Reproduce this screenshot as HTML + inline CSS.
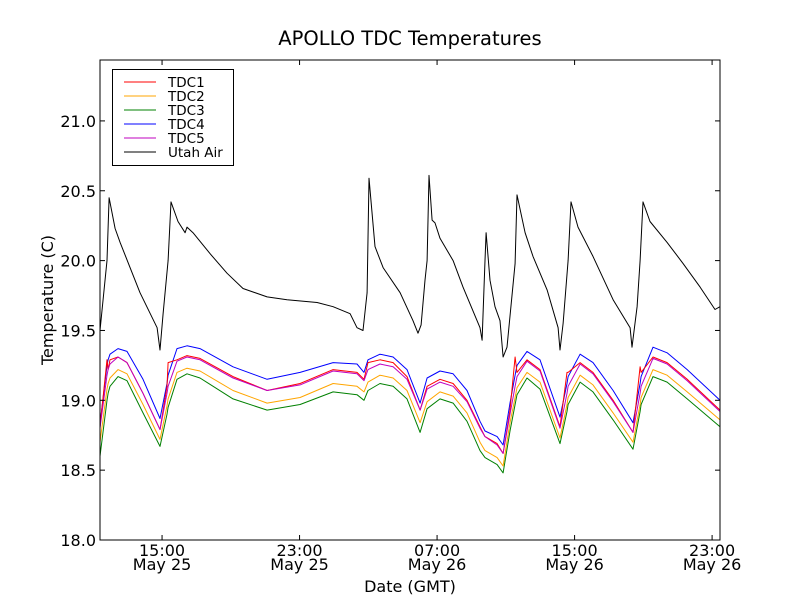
<!DOCTYPE html>
<html><head><meta charset="utf-8"><style>
body{margin:0;background:#fff;}
svg{display:block;font-family:"DejaVu Sans","Liberation Sans",sans-serif;}
</style></head><body>
<svg id="chart" width="800" height="600" viewBox="0 0 800 600">
<rect x="0" y="0" width="800" height="600" fill="#fff"/>
<text x="410" y="45" text-anchor="middle" font-size="19.5">APOLLO TDC Temperatures</text>
<g id="series"></g>
<g id="axes"></g>
<rect x="100" y="60" width="620" height="480" fill="none" stroke="#000" stroke-width="1"/>
<text x="410" y="592" text-anchor="middle" font-size="16">Date (GMT)</text>
<text transform="translate(53,300) rotate(-90)" text-anchor="middle" font-size="16">Temperature (C)</text>
<g id="legend">
<rect x="112.5" y="69.5" width="121" height="96" fill="#fff" stroke="#000"/>
</g>
</svg>
<script>
const airHours=[11.39,11.80,11.92,12.27,12.56,13.72,14.71,14.88,15.06,15.35,15.52,15.93,16.34,16.45,16.80,17.79,18.78,19.71,21.11,22.27,24.02,24.95,25.94,26.34,26.69,26.93,27.04,27.39,27.86,28.85,29.60,29.89,30.07,30.30,30.42,30.53,30.71,30.88,31.17,31.93,32.51,33.50,33.62,33.79,33.85,34.08,34.37,34.66,34.84,35.07,35.54,35.65,36.12,36.58,37.40,38.04,38.15,38.33,38.62,38.79,39.20,40.07,41.24,42.23,42.34,42.64,42.81,42.98,43.39,44.38,45.31,46.30,47.17,47.46];
const utahAir=[19.50,20.00,20.45,20.23,20.13,19.77,19.52,19.36,19.62,20.00,20.42,20.28,20.20,20.24,20.20,20.05,19.91,19.80,19.74,19.72,19.70,19.67,19.62,19.52,19.50,19.77,20.59,20.10,19.95,19.77,19.57,19.48,19.54,19.86,20.00,20.61,20.29,20.27,20.16,20.00,19.81,19.52,19.43,20.00,20.20,19.86,19.67,19.57,19.31,19.38,19.98,20.47,20.20,20.03,19.79,19.52,19.36,19.55,20.00,20.42,20.24,20.03,19.72,19.52,19.38,19.67,20.00,20.42,20.28,20.13,19.98,19.81,19.65,19.67];
const tdcHours=[11.39,11.80,11.86,11.97,12.44,12.96,13.89,14.88,15.29,15.35,15.87,16.45,17.21,19.13,21.11,23.03,24.95,26.34,26.75,26.98,27.68,28.44,29.25,30.01,30.42,31.17,31.93,32.74,33.50,33.79,34.49,34.84,35.24,35.54,35.65,36.23,36.99,38.15,38.56,38.62,39.32,40.07,41.24,42.40,42.81,42.87,43.56,44.38,45.55,47.46];
const tdc1=[18.81,19.29,19.22,19.29,19.31,19.27,19.05,18.79,19.10,19.27,19.29,19.32,19.30,19.17,19.07,19.12,19.22,19.20,19.15,19.27,19.29,19.27,19.17,18.93,19.10,19.15,19.12,19.00,18.81,18.74,18.69,18.62,18.93,19.31,19.20,19.29,19.22,18.81,19.20,19.20,19.27,19.20,19.00,18.77,19.24,19.20,19.31,19.27,19.15,18.93];
const tdc5=[18.80,19.18,19.22,19.26,19.31,19.27,19.05,18.79,19.05,19.10,19.28,19.31,19.29,19.16,19.07,19.11,19.21,19.19,19.14,19.22,19.26,19.24,19.15,18.93,19.08,19.13,19.10,18.99,18.80,18.74,18.68,18.62,18.90,19.10,19.17,19.28,19.21,18.80,19.05,19.10,19.26,19.19,18.99,18.77,19.05,19.10,19.30,19.26,19.14,18.92];
const tdc4=[18.83,19.25,19.29,19.33,19.37,19.35,19.15,18.87,19.12,19.18,19.37,19.39,19.37,19.24,19.15,19.20,19.27,19.26,19.20,19.29,19.33,19.31,19.22,18.98,19.16,19.21,19.19,19.07,18.85,18.78,18.74,18.68,18.98,19.18,19.25,19.35,19.29,18.88,19.12,19.17,19.33,19.27,19.07,18.84,19.12,19.17,19.38,19.34,19.22,19.00];
const tdc2=[18.70,19.08,19.12,19.16,19.22,19.19,18.97,18.72,18.96,19.01,19.20,19.23,19.21,19.07,18.98,19.02,19.12,19.10,19.06,19.13,19.18,19.16,19.07,18.84,18.99,19.06,19.03,18.91,18.70,18.64,18.59,18.53,18.84,19.02,19.09,19.20,19.13,18.73,18.97,19.02,19.18,19.11,18.91,18.70,18.97,19.02,19.22,19.18,19.06,18.86];
const tdc3=[18.60,19.00,19.05,19.10,19.17,19.14,18.91,18.67,18.90,18.95,19.15,19.19,19.16,19.01,18.93,18.97,19.06,19.04,19.00,19.07,19.12,19.10,19.01,18.77,18.94,19.01,18.98,18.85,18.64,18.59,18.54,18.48,18.78,18.97,19.04,19.16,19.08,18.69,18.92,18.97,19.13,19.06,18.86,18.65,18.92,18.97,19.17,19.13,19.01,18.81];
const yTicks=[18.0,18.5,19.0,19.5,20.0,20.5,21.0];
const yTickLabels=["18.0","18.5","19.0","19.5","20.0","20.5","21.0"];
const xTicks=[15,23,31,39,47];
const xTickTimes=["15:00","23:00","07:00","15:00","23:00"];
const xTickDates=["May 25","May 25","May 26","May 26","May 26"];

const X0=100,X1=720,Y0=540,Y1=60,XMIN=11.39,XMAX=47.46,YMIN=18.0,YMAX=21.436;
function sx(h){return X0+(h-XMIN)/(XMAX-XMIN)*(X1-X0);}
function sy(v){return Y0-(v-YMIN)/(YMAX-YMIN)*(Y0-Y1);}
const NS="http://www.w3.org/2000/svg";
const sg=document.getElementById('series');
function drawLine(xs,ys,color,name){
  const p=document.createElementNS(NS,'polyline');
  p.setAttribute('points',xs.map((h,i)=>sx(h).toFixed(1)+','+sy(ys[i]).toFixed(1)).join(' '));
  p.setAttribute('fill','none');p.setAttribute('stroke',color);p.setAttribute('stroke-width','1');
  p.setAttribute('stroke-linejoin','round');
  
  
  sg.appendChild(p);
}
drawLine(airHours,utahAir,'#000','utah-air-line');
drawLine(tdcHours,tdc3,'#008000','tdc3-line');
drawLine(tdcHours,tdc2,'#ffa500','tdc2-line');
drawLine(tdcHours,tdc4,'#0000ff','tdc4-line');
drawLine(tdcHours,tdc1,'#ff0000','tdc1-line');
drawLine(tdcHours,tdc5,'#bf00bf','tdc5-line');

const ag=document.getElementById('axes');
function mk(tag,attrs){const e=document.createElementNS(NS,tag);for(const k in attrs)e.setAttribute(k,attrs[k]);ag.appendChild(e);return e;}
yTicks.forEach((v,i)=>{
  const y=sy(v);
  const t1=mk('line',{x1:X0,x2:X0+5,y1:y,y2:y,stroke:'#000'});
  
  
  const t2=mk('line',{x1:X1-5,x2:X1,y1:y,y2:y,stroke:'#000'});
  
  
  const tx=mk('text',{x:X0-4,y:y+6,'text-anchor':'end','font-size':'16'});
  tx.textContent=yTickLabels[i];
  
  
});
xTicks.forEach((h,i)=>{
  const x=sx(h);
  const t1=mk('line',{x1:x,x2:x,y1:Y0,y2:Y0-5,stroke:'#000'});
  
  
  const t2=mk('line',{x1:x,x2:x,y1:Y1,y2:Y1+5,stroke:'#000'});
  
  
  const a=mk('text',{x:x,y:556,'text-anchor':'middle','font-size':'16'});
  a.textContent=xTickTimes[i];
  
  
  const b=mk('text',{x:x,y:570,'text-anchor':'middle','font-size':'16'});
  b.textContent=xTickDates[i];
  
  
});

const lg=document.getElementById('legend');
const legNames=["TDC1","TDC2","TDC3","TDC4","TDC5","Utah Air"];
const legColors=["#ff0000","#ffa500","#008000","#0000ff","#bf00bf","#000000"];
legNames.forEach((n,i)=>{
  const y=82+i*14;
  const l=document.createElementNS(NS,'line');
  l.setAttribute('x1',124);l.setAttribute('x2',156);l.setAttribute('y1',y);l.setAttribute('y2',y);
  l.setAttribute('stroke',legColors[i]);
  
  
  lg.appendChild(l);
  const t=document.createElementNS(NS,'text');
  t.setAttribute('x',168);t.setAttribute('y',y+5);t.setAttribute('font-size','13.5');
  t.textContent=n;
  
  
  lg.appendChild(t);
});
</script>
</body></html>
